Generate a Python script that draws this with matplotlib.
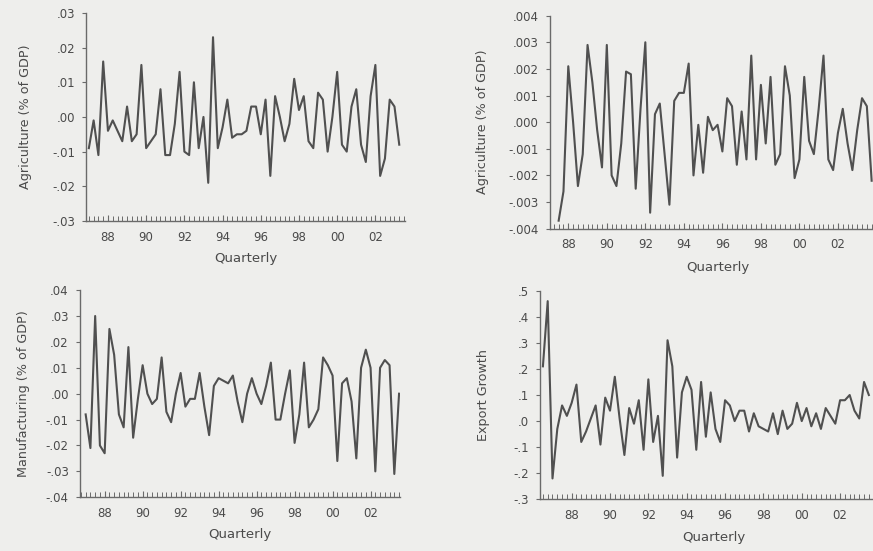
import matplotlib
matplotlib.use("Agg")
import matplotlib.pyplot as plt
from matplotlib.ticker import FixedLocator, MultipleLocator, FuncFormatter
import numpy as np

# quarterly cyclical components
agri_gdp = [-0.009, -0.001, -0.011, 0.016, -0.004, -0.001, -0.004, -0.007, 0.003, -0.007,
            -0.005, 0.015, -0.009, -0.007, -0.005, 0.008, -0.011, -0.011, -0.002, 0.013,
            -0.010, -0.011, 0.010, -0.009, 0.000, -0.019, 0.023, -0.009, -0.003, 0.005,
            -0.006, -0.005, -0.005, -0.004, 0.003, 0.003, -0.005, 0.005, -0.017, 0.006,
            0.000, -0.007, -0.002, 0.011, 0.002, 0.006, -0.007, -0.009, 0.007, 0.005,
            -0.010, 0.000, 0.013, -0.008, -0.010, 0.003, 0.008, -0.008, -0.013, 0.006,
            0.015, -0.017, -0.012, 0.005, 0.003, -0.008]
agri_start = 1987.0

agri_gdp2 = [-0.0037, -0.0026, 0.0021, 0.0000, -0.0024, -0.0012, 0.0029, 0.0015, -0.0003, -0.0017,
             0.0029, -0.0020, -0.0024, -0.0008, 0.0019, 0.0018, -0.0025, 0.0005, 0.0030, -0.0034,
             0.0003, 0.0007, -0.0012, -0.0031, 0.0008, 0.0011, 0.0011, 0.0022, -0.0020, -0.0001,
             -0.0019, 0.0002, -0.0003, -0.0001, -0.0011, 0.0009, 0.0006, -0.0016, 0.0004, -0.0014,
             0.0025, -0.0014, 0.0014, -0.0008, 0.0017, -0.0016, -0.0012, 0.0021, 0.0010, -0.0021,
             -0.0014, 0.0017, -0.0007, -0.0012, 0.0005, 0.0025, -0.0014, -0.0018, -0.0004, 0.0005,
             -0.0008, -0.0018, -0.0003, 0.0009, 0.0006, -0.0022]
agri2_start = 1987.5

manuf_gdp = [-0.008, -0.021, 0.030, -0.020, -0.023, 0.025, 0.015, -0.008, -0.013, 0.018,
             -0.017, -0.002, 0.011, 0.000, -0.004, -0.002, 0.014, -0.007, -0.011, 0.000,
             0.008, -0.005, -0.002, -0.002, 0.008, -0.005, -0.016, 0.003, 0.006, 0.005,
             0.004, 0.007, -0.003, -0.011, 0.000, 0.006, 0.000, -0.004, 0.003, 0.012,
             -0.010, -0.010, 0.000, 0.009, -0.019, -0.008, 0.012, -0.013, -0.010, -0.006,
             0.014, 0.011, 0.007, -0.026, 0.004, 0.006, -0.003, -0.025, 0.010, 0.017,
             0.010, -0.030, 0.010, 0.013, 0.011, -0.031, 0.000]
manuf_start = 1987.0

export_growth = [0.21, 0.46, -0.22, -0.03, 0.06, 0.02, 0.07, 0.14, -0.08, -0.04,
                 0.01, 0.06, -0.09, 0.09, 0.04, 0.17, 0.01, -0.13, 0.05, -0.01,
                 0.08, -0.11, 0.16, -0.08, 0.02, -0.21, 0.31, 0.21, -0.14, 0.11,
                 0.17, 0.12, -0.11, 0.15, -0.06, 0.11, -0.03, -0.08, 0.08, 0.06,
                 0.00, 0.04, 0.04, -0.04, 0.03, -0.02, -0.03, -0.04, 0.03, -0.05,
                 0.04, -0.03, -0.01, 0.07, 0.00, 0.05, -0.02, 0.03, -0.03, 0.05,
                 0.02, -0.01, 0.08, 0.08, 0.10, 0.04, 0.01, 0.15, 0.10]
export_start = 1986.5

year_ticks = [1988, 1990, 1992, 1994, 1996, 1998, 2000, 2002]
year_labels = ["88", "90", "92", "94", "96", "98", "00", "02"]

TXT = "#4a4a4a"
LINE = "#505050"
BG = "#eeeeec"


def short_fmt(dec):
    def f(v, pos):
        s = f"{v:.{dec}f}"
        if s.startswith("-0."):
            s = "-" + s[2:]
        elif s.startswith("0."):
            s = s[1:]
        return s
    return FuncFormatter(f)


def panel(rect, data, start, ylim, ystep, dec, xlim, ylabel, ylab_x):
    ax = fig.add_axes(rect)
    ax.set_facecolor("none")
    x = start + 0.25 * np.arange(len(data))
    ax.plot(x, data, color=LINE, lw=1.5)
    ax.set_xlim(*xlim)
    ax.set_ylim(*ylim)
    for s in ["top", "right"]:
        ax.spines[s].set_visible(False)
    for s in ["left", "bottom"]:
        ax.spines[s].set_color("#6a6a6a")
        ax.spines[s].set_linewidth(1.0)
    ax.xaxis.set_major_locator(FixedLocator(year_ticks))
    ax.set_xticklabels(year_labels)
    ax.xaxis.set_minor_locator(MultipleLocator(0.25))
    ax.yaxis.set_major_locator(MultipleLocator(ystep))
    ax.yaxis.set_major_formatter(short_fmt(dec))
    ax.tick_params(axis="x", which="major", direction="in", length=4, width=0.8,
                   colors="#6a6a6a", labelcolor=TXT, labelsize=8.5, pad=7)
    ax.tick_params(axis="x", which="minor", direction="in", length=3.5, width=0.7,
                   colors="#6a6a6a")
    ax.tick_params(axis="y", direction="out", length=3, width=0.8,
                   colors="#6a6a6a", labelcolor=TXT, labelsize=8.5, pad=5)
    ax.set_xlabel("Quarterly", fontsize=9.5, color=TXT)
    ax.xaxis.set_label_coords(0.5, -0.15)
    ax.set_ylabel(ylabel, fontsize=9.2, color=TXT)
    ax.yaxis.set_label_coords(ylab_x, 0.5)
    return ax


fig = plt.figure(figsize=(8.73, 5.51), dpi=100, facecolor=BG)

panel([0.0985, 0.599, 0.3654, 0.3775], agri_gdp, agri_start, (-0.03, 0.03), 0.01, 2,
      (1986.85, 2003.55), "Agriculture (% of GDP)", -0.17)
panel([0.630, 0.585, 0.385, 0.3866], agri_gdp2, agri2_start, (-0.004, 0.004), 0.001, 3,
      (1987.05, 2004.5), "Agriculture (% of GDP)", -0.18)
panel([0.0916, 0.0975, 0.3666, 0.376], manuf_gdp, manuf_start, (-0.04, 0.04), 0.01, 2,
      (1986.7, 2003.55), "Manufacturing (% of GDP)", -0.155)
panel([0.6186, 0.0938, 0.3986, 0.3786], export_growth, export_start, (-0.3, 0.5), 0.1, 1,
      (1986.35, 2004.5), "Export Growth", -0.145)

fig.savefig("out.png", dpi=100, facecolor=BG)
